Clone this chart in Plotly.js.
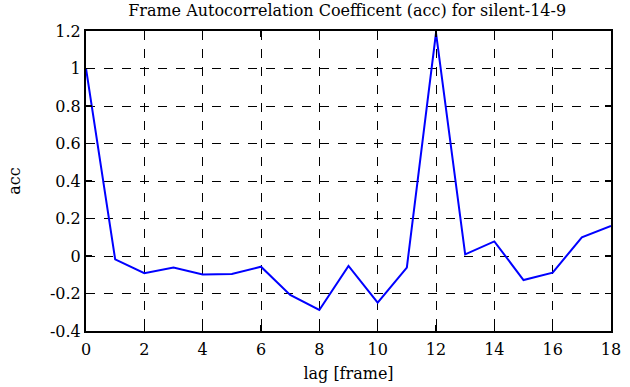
<!DOCTYPE html>
<html>
<head>
<script src="https://cdn.plot.ly/plotly-3.0.1.min.js"></script>
<style>html,body{margin:0;padding:0;background:#fff;}#chart{width:630px;height:387px;}</style>
</head>
<body>
<div id="chart"></div>
<script>
const lag = [0,1,2,3,4,5,6,7,8,9,10,11,12,13,14,15,16,17,18];
const acc = [1.0,-0.018,-0.092,-0.062,-0.098,-0.096,-0.057,-0.208,-0.288,-0.053,-0.249,-0.062,1.19,0.009,0.078,-0.128,-0.089,0.10,0.16];
const xTicks = [0,2,4,6,8,10,12,14,16,18];
const yTicks = [-0.4,-0.2,0,0.2,0.4,0.6,0.8,1,1.2];
const yTickText = ["-0.4","-0.2","0","0.2","0.4","0.6","0.8","1","1.2"];

const font = {family: "DejaVu Serif", size: 16, color: "#000"};
const axisCommon = {
  showline: true, linecolor: "#000", linewidth: 2, mirror: "ticks",
  ticks: "inside", ticklen: 6, tickwidth: 1.5, tickcolor: "#000",
  showgrid: true, gridcolor: "#000", griddash: "dash", gridwidth: 1,
  zeroline: false, tickfont: font
};
Plotly.newPlot("chart", [{
  x: lag, y: acc, type: "scatter", mode: "lines",
  line: {color: "#0000ff", width: 2}
}], {
  width: 630, height: 387,
  margin: {l: 86, r: 19, t: 31, b: 56},
  paper_bgcolor: "#fff", plot_bgcolor: "#fff",
  showlegend: false,
  font: font,
  title: {text: "Frame Autocorrelation Coefficent (acc) for silent-14-9", font: font, x: 0.551, xanchor: "center", y: 0.972, yanchor: "middle"},
  xaxis: Object.assign({}, axisCommon, {range: [0, 18], tickvals: xTicks, ticktext: xTicks.map(String),
    ticklabelstandoff: 3,
    title: {text: "lag [frame]", font: font, standoff: 10}}),
  yaxis: Object.assign({}, axisCommon, {range: [-0.4, 1.2], tickvals: yTicks, ticktext: yTickText,
    title: {text: "acc", font: font, standoff: 25}})
}, {displayModeBar: false, staticPlot: true});
</script>
</body>
</html>
